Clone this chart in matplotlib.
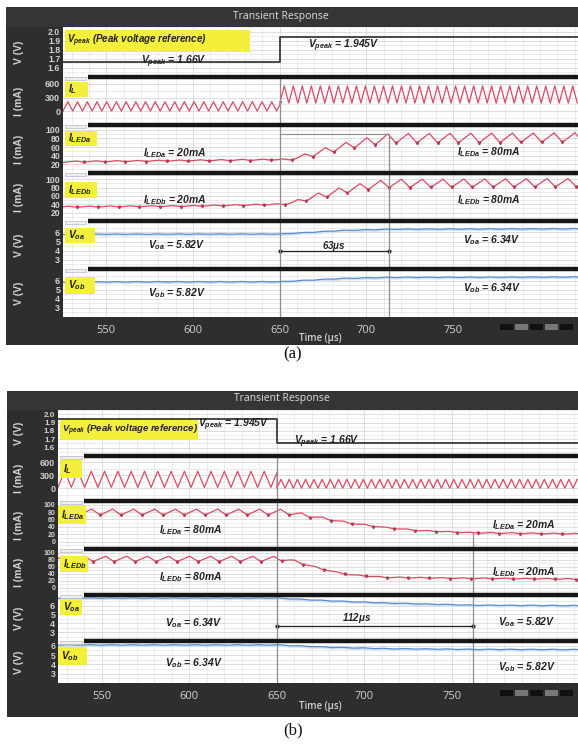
import numpy as np
import matplotlib
matplotlib.use('Agg')
import matplotlib.pyplot as plt
from matplotlib.patches import Rectangle

plt.rcParams['mathtext.fontset'] = 'custom'
plt.rcParams['mathtext.it'] = 'Liberation Sans:italic:bold'
plt.rcParams['mathtext.rm'] = 'Liberation Sans:bold'
plt.rcParams['mathtext.bf'] = 'Liberation Sans:bold'

W, H = 578, 744
T0, T1 = 525, 822

# ---------------- data ----------------
x_ticks = [550, 600, 650, 700, 750]
v_ticks = [2.0, 1.9, 1.8, 1.7, 1.6]
il_ticks = [600, 300, 0]
iled_ticks_a = [100, 80, 60, 40, 20]
iled_ticks_b = [100, 80, 60, 40, 20, 0]
vo_ticks = [6, 5, 4, 3]
y_names = ["V (V)", "I (mA)", "I (mA)", "I (mA)", "V (V)", "V (V)"]

# Vpeak reference steps
vpeak_t = [525, 650, 650, 822]
vpeak_a = [1.66, 1.66, 1.945, 1.945]
vpeak_b = [1.945, 1.945, 1.66, 1.66]

# Inductor current: segment edges, switching period, valley, peak
il_edges = [525, 650, 822]
il_a_period = [5.6, 5.2]
il_a_low = [5, 180]
il_a_high = [210, 555]
il_b_period = [7.6, 4.7]
il_b_low = [19, 0]
il_b_high = [394, 206]

# LED currents: envelope time points, mean value, ripple (pk-pk)
iled_a_a_t = [525, 600, 650, 656, 670, 685, 700, 713, 822]
iled_a_a_v = [26, 29, 31, 31, 45, 60, 72, 80, 82]
iled_a_a_r = [3, 3, 3, 3, 14, 16, 18, 22, 22]
iled_b_a_t = [525, 600, 650, 655, 670, 685, 700, 713, 822]
iled_b_a_v = [34, 36, 40, 42, 58, 72, 84, 90, 92]
iled_b_a_r = [3, 3, 3, 4, 14, 16, 18, 20, 20]
iled_a_b_t = [525, 650, 655, 673, 692, 712, 731, 761, 822]
iled_a_b_v = [80, 80, 80, 66, 50, 38, 30, 24, 21]
iled_a_b_r = [16, 16, 14, 6, 4, 3, 3, 3, 3]
iled_b_b_t = [525, 650, 654, 664, 673, 683, 692, 712, 761, 822]
iled_b_b_v = [82, 82, 82, 70, 57, 45, 37, 30, 27, 25]
iled_b_b_r = [15, 15, 12, 6, 4, 3, 3, 3, 3, 3]
iled_period = 12.0

# Output voltages: envelope time points and values
voa_a_t = [525, 650, 665, 685, 713, 822]
voa_a_v = [5.80, 5.82, 5.98, 6.20, 6.35, 6.40]
vob_a_t = [525, 650, 665, 685, 713, 822]
vob_a_v = [5.88, 5.90, 6.05, 6.25, 6.38, 6.42]
voa_b_t = [525, 650, 680, 712, 762, 822]
voa_b_v = [6.85, 6.85, 6.55, 6.30, 6.05, 6.00]
vob_b_t = [525, 650, 680, 712, 762, 822]
vob_b_v = [6.10, 6.10, 5.85, 5.70, 5.62, 5.60]
vo_ripple = 0.07

# cursors
cursor_a = [650, 713]
cursor_b = [650, 762]

# ---------------- helpers ----------------
fig = plt.figure(figsize=(W / 100, H / 100), dpi=100)
fig.patch.set_facecolor('white')

DARK = '#2e2e2e'
RED = '#d94a64'
BLUE = '#5a8ccc'
YEL = '#f3ef3a'
LIGHT = '#d2d2d2'


def frect(x0, y0, x1, y1, color, z=-5, ec='none', lw=0):
    fig.add_artist(Rectangle((x0 / W, 1 - y1 / H), (x1 - x0) / W, (y1 - y0) / H,
                             transform=fig.transFigure, facecolor=color,
                             edgecolor=ec, lw=lw, zorder=z))


def ftext(x, y, s, **kw):
    kw.setdefault('ha', 'center')
    kw.setdefault('va', 'center')
    fig.text(x / W, 1 - y / H, s, **kw)


def triangle(edges, periods, lows, highs):
    ts, vs = [], []
    for i in range(len(periods)):
        n = int(round((edges[i + 1] - edges[i]) / (periods[i] / 2)))
        k = np.arange(n + 1)
        ts.append(edges[i] + k * periods[i] / 2)
        vs.append(np.where(k % 2 == 0, lows[i], highs[i]))
    return np.concatenate(ts), np.concatenate(vs)


def rippled(env_t, env_v, env_r, period, rise=0.6, phase0=0.0):
    t = np.linspace(T0, T1, 4000)
    base = np.interp(t, env_t, env_v)
    amp = np.interp(t, env_t, env_r)
    ph = ((t - T0 + phase0) % period) / period
    tri = np.where(ph < rise, ph / rise, (1 - ph) / (1 - rise)) - 0.5
    marks = np.where(np.diff(ph) < 0)[0] + 1
    return t, base + amp * tri, marks


def draw_led(ax, env_t, env_v, env_r, phase0=0.0):
    t, v, marks = rippled(env_t, env_v, env_r, iled_period, phase0=phase0)
    ax.plot(t, v, color=RED, lw=0.9)
    ax.plot(t[marks], v[marks], ls='none', marker='v', ms=1.8, color='#b83a52')


def draw_vo(ax, env_t, env_v):
    t, v, _ = rippled(env_t, env_v, [vo_ripple] * len(env_t), iled_period, rise=0.5)
    ax.plot(t, v - 0.12, color='#d3e2f4', lw=1.4)
    ax.plot(t, v, color=BLUE, lw=0.9)


bold_it = dict(fontweight='bold', style='italic', family='Liberation Sans', color='#222222')


def build(left, tops, bottom, ylims, tick_sets, tick_fmt, tick_sizes, xsep_px):
    edges = tops + [bottom]
    axes = []
    for i in range(6):
        y0, y1 = edges[i], edges[i + 1]
        ax = fig.add_axes([left / W, 1 - y1 / H, (W - left) / W, (y1 - y0) / H])
        ax.set_xlim(T0, T1)
        ax.set_ylim(*ylims[i])
        ax.set_facecolor('white')
        for s in ax.spines.values():
            s.set_visible(False)
        ax.set_xticks(x_ticks)
        ax.set_xticks(np.arange(530, 822, 10), minor=True)
        ax.set_yticks(tick_sets[i])
        ax.set_yticklabels([tick_fmt[i].format(v) for v in tick_sets[i]],
                           color=LIGHT, fontsize=tick_sizes[i], fontweight='bold',
                           family='Liberation Sans')
        ts = tick_sets[i]
        step = abs(ts[0] - ts[1])
        ax.set_yticks(np.arange(min(ts) - step, max(ts) + step, step / 2), minor=True)
        ax.grid(True, which='major', color='#d4d4d4', lw=0.55)
        ax.grid(True, which='minor', color='#e4e4e4', lw=0.5)
        ax.set_axisbelow(True)
        ax.tick_params(which='both', length=0)
        ax.tick_params(axis='y', pad=2)
        if i < 5:
            ax.tick_params(axis='x', labelbottom=False)
        else:
            ax.tick_params(axis='x', pad=6, labelcolor=LIGHT, labelsize=8)
            for lab in ax.get_xticklabels():
                lab.set_family('Open Sans')
        if i > 0:
            xs = T0 + (xsep_px - left) / ((W - left) / (T1 - T0))
            ax.plot([xs, T1], [1, 1], color='#161616', lw=3.2,
                    transform=ax.get_xaxis_transform(), clip_on=False, zorder=5,
                    solid_capstyle='butt')
            ax.add_patch(Rectangle((T0 + 1, 0.93), xs - T0 - 2, 0.07,
                                   transform=ax.get_xaxis_transform(),
                                   facecolor='#eeeeee', edgecolor='#bbbbbb', lw=0.5,
                                   zorder=5))
        axes.append(ax)
        ftext(19, (y0 + y1) / 2, y_names[i], rotation=90, color=LIGHT,
              fontsize=7.5, fontweight='bold', family='Liberation Sans')
    return axes


fmt = ['{:.1f}', '{:.0f}', '{:.0f}', '{:.0f}', '{:.0f}', '{:.0f}']

# ================= panel (a) =================
frect(6, 7, W, 345, DARK)
frect(6, 7, W, 27, '#353535', z=-4)
ftext(281, 17, 'Transient Response', color='#dddddd', fontsize=7.5, family='Open Sans')
ax_a = build(63, [27, 77, 125, 173, 221, 269], 317,
             [(1.573, 2.027), (-127, 745), (7.0, 110.8), (11.4, 115.1), (2.28, 7.24), (2.5, 7.3)],
             [v_ticks, il_ticks, iled_ticks_a, iled_ticks_a, vo_ticks, vo_ticks], fmt,
             [6.2, 6.5, 6.2, 6.2, 6.5, 6.5], 88)
ftext(320, 339, 'Time (µs)', color=LIGHT, fontsize=7, fontweight='semibold', family='Open Sans')

ax_a[0].plot(vpeak_t, vpeak_a, color='#3a3a3a', lw=1.3)
t, v = triangle(il_edges, il_a_period, il_a_low, il_a_high)
ax_a[1].plot(t, v, color=RED, lw=0.9)
draw_led(ax_a[2], iled_a_a_t, iled_a_a_v, iled_a_a_r)
draw_led(ax_a[3], iled_b_a_t, iled_b_a_v, iled_b_a_r, phase0=4)
draw_vo(ax_a[4], voa_a_t, voa_a_v)
draw_vo(ax_a[5], vob_a_t, vob_a_v)

for ax in ax_a[1:]:
    ax.axvline(cursor_a[0], color='#8c8c8c', lw=0.9, zorder=4)
ax_a[2].plot([cursor_a[0], cursor_a[1]], [89, 89], color='#8c8c8c', lw=0.8)
ax_a[2].plot([cursor_a[1], cursor_a[1]], [89, -50], color='#8c8c8c', lw=0.9)
for ax in ax_a[3:]:
    ax.axvline(cursor_a[1], color='#8c8c8c', lw=0.9, zorder=4)
ax_a[4].plot(cursor_a, [3.93, 3.93], color='#222222', lw=0.9, marker='o', ms=2)

# labels (a)
frect(65, 30, 250, 52, YEL, z=2)
ftext(67, 41, r'$V_{peak}$ (Peak voltage reference)', ha='left', fontsize=7, **bold_it)
ftext(174, 62, r'$V_{peak}$ = 1.66V', fontsize=7.5, **bold_it)
ftext(344, 46, r'$V_{peak}$ = 1.945V', fontsize=7.5, **bold_it)
for (x0, y0, x1, y1, s) in [(65, 82, 88, 97, r'$I_{L}$'), (65, 131, 97, 146, r'$I_{LEDa}$'),
                            (65, 182, 97, 198, r'$I_{LEDb}$'), (65, 228, 95, 243, r'$V_{oa}$'),
                            (65, 277, 95, 294, r'$V_{ob}$')]:
    frect(x0, y0, x1, y1, YEL, z=2)
    ftext(x0 + 3, (y0 + y1) / 2, s, ha='left', fontsize=7.5, **bold_it)
ftext(175, 153, r'$I_{LEDa}$ = 20mA', fontsize=7.5, **bold_it)
ftext(175, 200, r'$I_{LEDb}$ = 20mA', fontsize=7.5, **bold_it)
ftext(489, 152, r'$I_{LEDa}$ = 80mA', fontsize=7.5, **bold_it)
ftext(489, 200, r'$I_{LEDb}$ = 80mA', fontsize=7.5, **bold_it)
ftext(177, 245, r'$V_{oa}$ = 5.82V', fontsize=7.5, **bold_it)
ftext(177, 293, r'$V_{ob}$ = 5.82V', fontsize=7.5, **bold_it)
ftext(492, 240, r'$V_{oa}$ = 6.34V', fontsize=7.5, **bold_it)
ftext(492, 288, r'$V_{ob}$ = 6.34V', fontsize=7.5, **bold_it)
ftext(334, 246, r'63$\mu$s', fontsize=7, **bold_it)
for i, c in enumerate(['#111111', '#777777', '#111111', '#777777', '#111111']):
    frect(500 + i * 15, 324, 513 + i * 15, 330, c, z=1)
ftext(293, 354, '(a)', fontsize=12, family='Liberation Serif', color='#111111')

# ================= panel (b) =================
frect(7, 391, W, 717, DARK)
frect(7, 391, W, 410, '#353535', z=-4)
ftext(282, 399, 'Transient Response', color='#dddddd', fontsize=7.5, family='Open Sans')
ax_b = build(58, [410, 456, 501, 549, 595, 641], 683,
             [(1.59, 2.05), (-150, 694), (-9.8, 107.3), (-5, 110), (2.6, 7.2), (2.17, 6.52)],
             [v_ticks, il_ticks, iled_ticks_b, iled_ticks_b, vo_ticks, vo_ticks], fmt,
             [5.8, 6.5, 5.0, 5.0, 6.5, 6.2], 84)
ftext(320, 706, 'Time (µs)', color=LIGHT, fontsize=7, fontweight='semibold', family='Open Sans')

ax_b[0].plot(vpeak_t, vpeak_b, color='#3a3a3a', lw=1.3)
t, v = triangle(il_edges, il_b_period, il_b_low, il_b_high)
ax_b[1].plot(t, v, color=RED, lw=0.9)
draw_led(ax_b[2], iled_a_b_t, iled_a_b_v, iled_a_b_r)
draw_led(ax_b[3], iled_b_b_t, iled_b_b_v, iled_b_b_r, phase0=4)
draw_vo(ax_b[4], voa_b_t, voa_b_v)
draw_vo(ax_b[5], vob_b_t, vob_b_v)

for ax in ax_b[1:]:
    ax.axvline(cursor_b[0], color='#8c8c8c', lw=0.9, zorder=4)
ax_b[2].plot([cursor_b[1], cursor_b[1]], [24, -50], color='#8c8c8c', lw=0.9)
for ax in ax_b[3:]:
    ax.axvline(cursor_b[1], color='#8c8c8c', lw=0.9, zorder=4)
ax_b[4].plot(cursor_b, [3.7, 3.7], color='#222222', lw=0.9, marker='o', ms=2)

frect(60, 420, 198, 440, YEL, z=2)
ftext(62, 430, r'$V_{peak}$ (Peak voltage reference)', ha='left', fontsize=6.8, **bold_it)
ftext(234, 425, r'$V_{peak}$ = 1.945V', fontsize=7.5, **bold_it)
ftext(327, 442, r'$V_{peak}$ = 1.66V', fontsize=7.5, **bold_it)
for (x0, y0, x1, y1, s) in [(60, 460, 82, 478, r'$I_{L}$'), (58, 506, 86, 524, r'$I_{LEDa}$'),
                            (60, 556, 88, 572, r'$I_{LEDb}$'), (60, 600, 82, 615, r'$V_{oa}$'),
                            (58, 647, 87, 665, r'$V_{ob}$')]:
    frect(x0, y0, x1, y1, YEL, z=2)
    ftext(x0 + 3, (y0 + y1) / 2, s, ha='left', fontsize=7.5, **bold_it)
ftext(191, 530, r'$I_{LEDa}$ = 80mA', fontsize=7.5, **bold_it)
ftext(191, 577, r'$I_{LEDb}$ = 80mA', fontsize=7.5, **bold_it)
ftext(524, 525, r'$I_{LEDa}$ = 20mA', fontsize=7.5, **bold_it)
ftext(524, 572, r'$I_{LEDb}$ = 20mA', fontsize=7.5, **bold_it)
ftext(194, 623, r'$V_{oa}$ = 6.34V', fontsize=7.5, **bold_it)
ftext(194, 663, r'$V_{ob}$ = 6.34V', fontsize=7.5, **bold_it)
ftext(527, 622, r'$V_{oa}$ = 5.82V', fontsize=7.5, **bold_it)
ftext(527, 667, r'$V_{ob}$ = 5.82V', fontsize=7.5, **bold_it)
ftext(357, 618, r'112$\mu$s', fontsize=7, **bold_it)
for i, c in enumerate(['#111111', '#777777', '#111111', '#777777', '#111111']):
    frect(500 + i * 15, 690, 513 + i * 15, 696, c, z=1)
ftext(293, 730, '(b)', fontsize=12, family='Liberation Serif', color='#111111')

fig.savefig('out.png', dpi=100)
